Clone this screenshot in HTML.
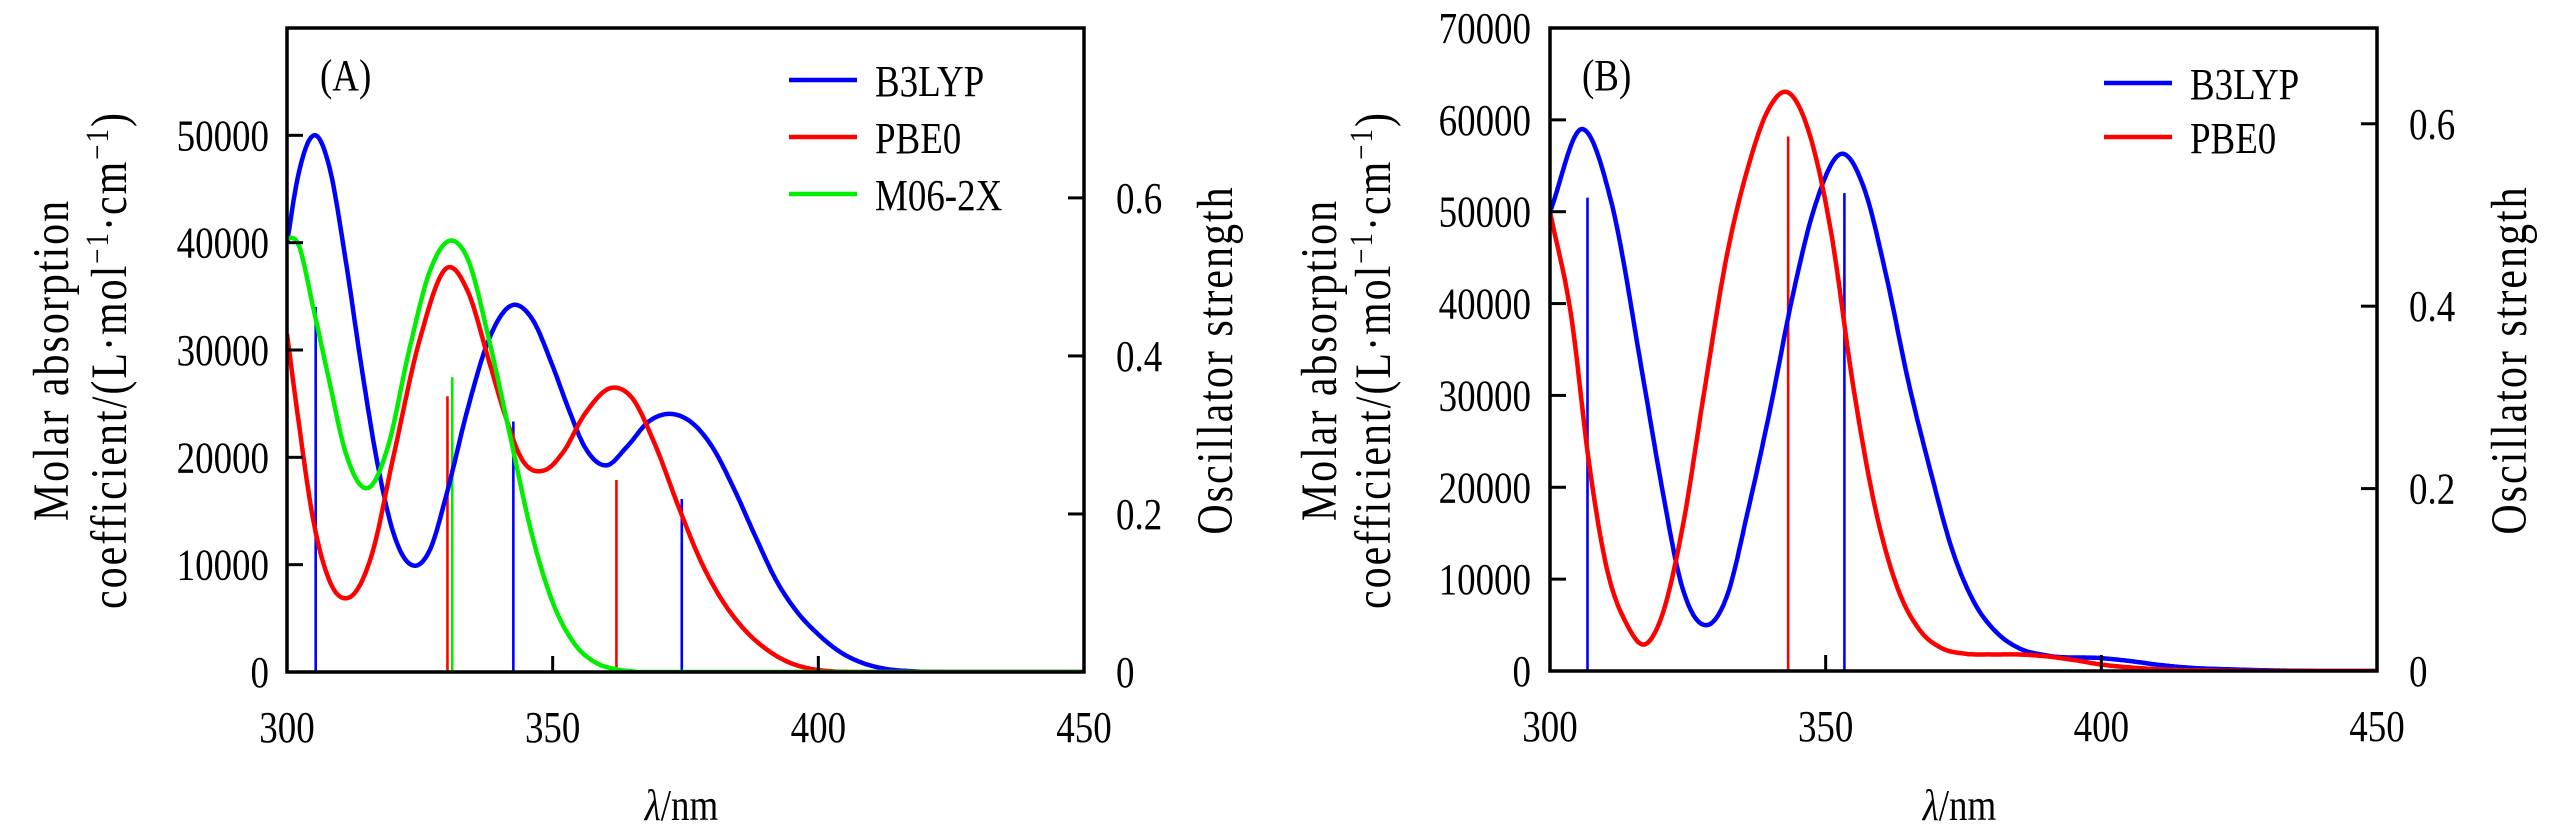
<!DOCTYPE html>
<html><head><meta charset="utf-8"><style>
html,body{margin:0;padding:0;background:#fff;}
svg{display:block;}
text{font-family:"Liberation Serif",serif;fill:#000;}
</style></head><body>
<svg id="fig" width="2567" height="831" viewBox="0 0 2567 831" xmlns="http://www.w3.org/2000/svg">
<g id="pA"></g>
<g id="pB"></g>
</svg>
<script>
// ----- Panel A data -----
const aB3lypX = [300,302,305.4,308,311,314,317,320,324,327,330,334,338,342.6,346,350,353,356,360,364,368,373,376,380,384,388,392,396,400,404,408,412,418,425,450];
const aB3lypY = [40000,46000,50000,47000,38500,28500,19500,13000,9900,11500,16500,24500,31000,34200,33000,28500,24500,21000,19250,21000,23300,24000,23300,21000,17200,12800,8600,5600,3500,1900,900,350,60,0,0];
const aPbe0X = [300,302,305,308,311.5,316,320,325,330.3,334,338,341,344,348.5,352,356,361.5,365,369,374,378,382,386,390,394,398,402,406,450];
const aPbe0Y = [31500,24000,14000,8500,6900,11000,20000,31000,37700,35500,29000,24000,20000,18800,20500,24000,26500,25500,21500,15000,10200,6600,4000,2200,1000,350,80,0,0];
const aM06X = [300,302,305,308,311,315.5,319,323,327,331,334,338,342,346,350,354,358,362,366,450];
const aM06Y = [40500,40000,33800,27000,20500,17200,21000,30000,37500,40200,38500,31000,22000,13000,6500,2700,900,250,0,0];
const aStickX = [305.4,330.2,331.1,342.6,362,374.3];
const aStickF = [0.462,0.349,0.373,0.317,0.243,0.219];
const aStickC = ['#0000ff','#ff0000','#00ee00','#0000ff','#ff0000','#0000ff'];
const aYTicks = [0,10000,20000,30000,40000,50000];
const aY2Ticks = [0,0.2,0.4,0.6];
// ----- Panel B data -----
const bB3lypX = [300,305.9,311.1,317,320,324,328.5,332,336,340,344,348,353.2,357,361,365,369,373,377,381,385,390,400,405,410,415,425,440,450];
const bB3lypY = [50000,59000,51100,31500,21000,9100,5000,8000,17700,28700,40800,50500,56300,52500,43000,31500,21800,13100,7400,4200,2500,1700,1400,1100,700,400,150,0,0];
const bPbe0X = [300,304,307,310,314,317.2,320,324,328,332,336,339.5,343.1,347,351,355,359,363,367,371,375,380,385,390,395,400,405,410,420,450];
const bPbe0Y = [50000,38000,23000,12000,5000,2900,5500,15500,30500,45000,55000,61000,63000,58600,47700,31000,17700,9100,4500,2500,1900,1800,1800,1600,1200,700,400,200,50,0];
const bStickX = [306.8,343.2,353.4];
const bStickF = [0.519,0.586,0.524];
const bStickC = ['#0000ff','#ff0000','#0000ff'];
const bYTicks = [0,10000,20000,30000,40000,50000,60000,70000];
const bY2Ticks = [0,0.2,0.4,0.6];
const xTicks = [300,350,400,450];

const NS='http://www.w3.org/2000/svg';
function mk(parent,tag,attrs,txt){const e=document.createElementNS(NS,tag);for(const k in attrs)e.setAttribute(k,attrs[k]);if(txt!==undefined)e.textContent=txt;parent.appendChild(e);return e;}
function pathFrom(xs,ys,sx,sy){
  const n=xs.length, m=new Array(n);
  for(let i=0;i<n;i++){
    if(i===0) m[i]=(ys[1]-ys[0])/(xs[1]-xs[0]);
    else if(i===n-1) m[i]=(ys[n-1]-ys[n-2])/(xs[n-1]-xs[n-2]);
    else{
      const h0=xs[i]-xs[i-1],h1=xs[i+1]-xs[i];
      const d0=(ys[i]-ys[i-1])/h0,d1=(ys[i+1]-ys[i])/h1;
      m[i]=(d0*h1+d1*h0)/(h0+h1);
    }
  }
  let d='M'+sx(xs[0]).toFixed(1)+','+sy(ys[0]).toFixed(1);
  for(let i=0;i<n-1;i++){
    const h=xs[i+1]-xs[i], steps=Math.max(4,Math.ceil(h*4));
    for(let k=1;k<=steps;k++){
      const t=k/steps,t2=t*t,t3=t2*t;
      const y=(2*t3-3*t2+1)*ys[i]+(t3-2*t2+t)*h*m[i]+(-2*t3+3*t2)*ys[i+1]+(t3-t2)*h*m[i+1];
      d+='L'+sx(xs[i]+t*h).toFixed(1)+','+sy(Math.max(0,y)).toFixed(1);
    }
  }
  return d;
}
function panel(g,cfg){
  const {L,R,T,B,yMax,y2Max}=cfg;
  const sx=x=>L+(x-300)/150*(R-L);
  const sy=y=>B-y/yMax*(B-T);
  const sy2=f=>B-f/y2Max*(B-T);
  const clip=mk(g,'clipPath',{id:cfg.id+'clip'});
  mk(clip,'rect',{x:L,y:T,width:R-L,height:B-T});
  const cg=mk(g,'g',{'clip-path':'url(#'+cfg.id+'clip)'});
  
  
  cfg.sticks.x.forEach((x,i)=>{
    const l=mk(cg,'line',{x1:sx(x),x2:sx(x),y1:B,y2:sy2(cfg.sticks.f[i]),stroke:cfg.sticks.c[i],'stroke-width':2.6});
    
    
  });
  cfg.series.forEach(s=>{
    const p=mk(cg,'path',{d:pathFrom(s.x,s.y,sx,sy),fill:'none',stroke:s.c,'stroke-width':4.5,'stroke-linejoin':'round'});
    
    
  });
  const fr=mk(g,'rect',{x:L,y:T,width:R-L,height:B-T,fill:'none',stroke:'#000','stroke-width':3.5});
  
  
  const tx=(s,x,y,anchor)=>mk(g,'text',{x:0,y:0,'font-size':44,'text-anchor':anchor,transform:'translate('+x+','+y+') scale(0.84,1)'},s);
  cfg.yTicks.forEach(v=>{
    const y=sy(v);
    if(v>0&&v<yMax){const t=mk(g,'line',{x1:L,x2:L+16,y1:y,y2:y,stroke:'#000','stroke-width':3});}
    const t=tx(String(v),cfg.yLabX,y+15,'end');
    
    
  });
  cfg.y2Ticks.forEach(v=>{
    const y=sy2(v);
    if(v>0){const t=mk(g,'line',{x1:R-16,x2:R,y1:y,y2:y,stroke:'#000','stroke-width':3});}
    const t=tx(v===0?'0':v.toFixed(1),R+32,y+15,'start');
    
    
  });
  xTicks.forEach(v=>{
    const x=sx(v);
    if(v>300&&v<450){const t=mk(g,'line',{x1:x,x2:x,y1:B-16,y2:B,stroke:'#000','stroke-width':3});}
    const t=tx(String(v),x,B+70,'middle');
    
    
  });
  const xt=mk(g,'text',{x:0,y:0,'font-size':44,'text-anchor':'middle',transform:'translate('+((L+R)/2-4)+',820) scale(0.84,1)'});
  
  
  mk(xt,'tspan',{'font-style':'italic'},'λ');
  mk(xt,'tspan',{},'/nm');
  const cy=cfg.titleCy;
  const rot=x=>'translate('+x+','+cy+') scale(1.2,1) rotate(-90)';
  const y1=mk(g,'text',{x:0,y:0,'font-size':42,'text-anchor':'middle','letter-spacing':'2',transform:rot(cfg.t1x)},'Molar absorption');
  
  
  const y2=mk(g,'text',{x:0,y:0,'font-size':42,'text-anchor':'middle','letter-spacing':'2',transform:rot(cfg.t2x)});
  
  
  y2.appendChild(document.createTextNode('coefficient/(L·mol'));
  mk(y2,'tspan',{dy:-15,'font-size':27},'−1');
  mk(y2,'tspan',{dy:15},'·cm');
  mk(y2,'tspan',{dy:-15,'font-size':27},'−1');
  mk(y2,'tspan',{dy:15},')');
  const rt=mk(g,'text',{x:0,y:0,'font-size':42,'text-anchor':'middle','letter-spacing':'2',transform:rot(cfg.rtx)},'Oscillator strength');
  
  
  const pl=tx(cfg.label,cfg.labX,90,'start');
  
  
  cfg.series.forEach((s,i)=>{
    const y=cfg.legY[i];
    const lg=mk(g,'g',{});
    
    
    mk(lg,'line',{x1:cfg.legX,x2:cfg.legX+68,y1:y,y2:y,stroke:s.c,'stroke-width':4.5});
    mk(lg,'text',{x:0,y:0,'font-size':44,transform:'translate('+(cfg.legX+86)+','+(y+16)+') scale(0.84,1)'},s.label);
  });
}
panel(document.getElementById('pA'),{id:'a',L:287,R:1084,T:28,B:672,yMax:60000,y2Max:0.815,
  yTicks:aYTicks,y2Ticks:aY2Ticks,yLabX:269,t1x:68,t2x:126,rtx:1232,titleCy:360,label:'(A)',labX:320,legX:789,legY:[80,137,194],
  sticks:{x:aStickX,f:aStickF,c:aStickC},
  series:[{name:'b3lyp',label:'B3LYP',x:aB3lypX,y:aB3lypY,c:'#0000ff'},{name:'pbe0',label:'PBE0',x:aPbe0X,y:aPbe0Y,c:'#ff0000'},{name:'m06-2x',label:'M06-2X',x:aM06X,y:aM06Y,c:'#00ee00'}]});
panel(document.getElementById('pB'),{id:'b',L:1550,R:2377,T:28,B:671,yMax:70000,y2Max:0.705,
  yTicks:bYTicks,y2Ticks:bY2Ticks,yLabX:1531,t1x:1336,t2x:1390,rtx:2526,titleCy:360,label:'(B)',labX:1582,legX:2104,legY:[83,137],
  sticks:{x:bStickX,f:bStickF,c:bStickC},
  series:[{name:'b3lyp',label:'B3LYP',x:bB3lypX,y:bB3lypY,c:'#0000ff'},{name:'pbe0',label:'PBE0',x:bPbe0X,y:bPbe0Y,c:'#ff0000'}]});
</script>
</body></html>
